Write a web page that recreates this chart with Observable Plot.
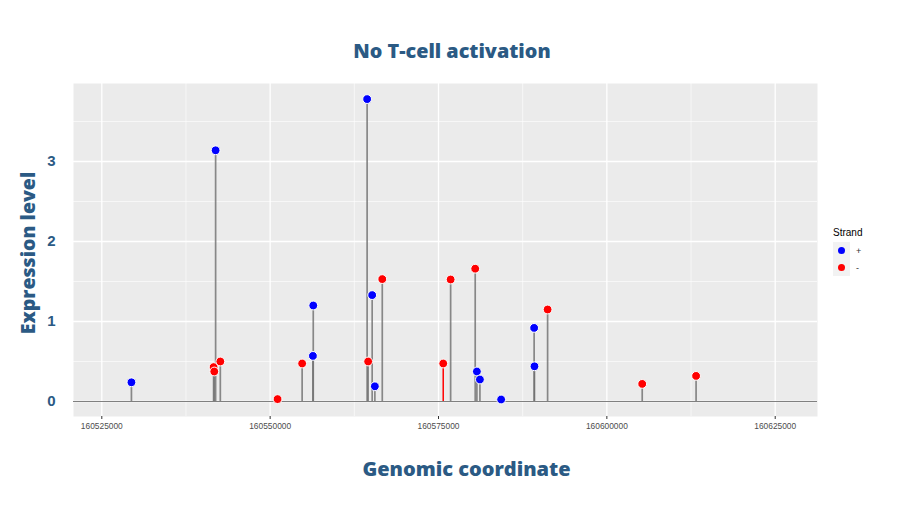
<!DOCTYPE html>
<html>
<head>
<meta charset="utf-8">
<script src="https://cdn.jsdelivr.net/npm/d3@7"></script>
<script src="https://cdn.jsdelivr.net/npm/@observablehq/plot@0.6"></script>
<style>
  html, body { margin: 0; padding: 0; background: #fff; }
  #wrap { position: relative; width: 904px; height: 508px; overflow: hidden; font-family: "Open Sans", sans-serif; }
  #title { position: absolute; left: 0; top: 0; width: 904px; height: 70px; box-sizing: border-box;
           padding-left: 0px; text-align: center; line-height: 102px; font-size: 19.8px; font-weight: 800; color: #2b5a84; }
  #title span { display: inline-block; line-height: 1; position: relative; top: 0; }
  #chart { position: absolute; left: 0; top: 70px; }
  #legend { position: absolute; left: 833px; top: 227px; font-family: "Liberation Sans", Arial, sans-serif; color: #000; }
  #legend .ttl { font-size: 10px; margin-bottom: 4px; }
  #legend .row { display: flex; align-items: center; height: 17px; }
  #legend .key { width: 17px; height: 17px; background: #f2f2f2; display: flex; align-items: center; justify-content: center; }
  #legend .dot { width: 7px; height: 7px; border-radius: 50%; }
  #legend .lab { font-size: 9px; margin-left: 6px; color: #333; }
</style>
</head>
<body>
<div id="wrap">
  <div id="title"></div>
  <div id="chart"></div>
  <div id="legend"></div>
</div>
<script>
// ---- data ----
const titleText = "No T-cell activation";
const xLabel = "Genomic coordinate";
const yLabel = "Expression level";
const legendTitle = "Strand";
const strandLevels = ["+", "-"];

const positions = [
  160529400, 160541600, 160541700, 160541900, 160542600,
  160551100, 160554750, 160556350, 160556400, 160564400,
  160564550, 160565150, 160565550, 160566650, 160575700,
  160576800, 160580450, 160580700, 160581150, 160584300,
  160589200, 160589250, 160591200, 160605250, 160613250
];
const expression = [
  0.24, 0.43, 0.375, 3.14, 0.50,
  0.03, 0.475, 0.57, 1.20, 3.78,
  0.50, 1.33, 0.19, 1.53, 0.475,
  1.525, 1.66, 0.375, 0.275, 0.025,
  0.92, 0.44, 1.15, 0.22, 0.32
];
const strands = [
  "+", "-", "-", "+", "-",
  "-", "-", "+", "+", "+",
  "-", "+", "+", "-", "-",
  "-", "-", "+", "+", "+",
  "+", "+", "-", "-", "-"
];
const highlightedStems = [160575700];

const xTicks = [160525000, 160550000, 160575000, 160600000, 160625000];
const xMinor = [160537500, 160562500, 160587500, 160612500];
const yTicks = [0, 1, 2, 3];
const yMinor = [0.5, 1.5, 2.5, 3.5];

// ---- build ----
const data = positions.map((p, i) => ({pos: p, value: expression[i], strand: strands[i]}));
const colors = ["#0000ff", "#ff0000"];
const ink = "#2b5a84";

document.getElementById("title").innerHTML = `<span>${titleText}</span>`;

const chart = Plot.plot({
  width: 904,
  height: 438,
  marginLeft: 73,
  marginRight: 87,
  marginTop: 13,
  marginBottom: 92,
  x: {domain: [160520797, 160631280]},
  y: {domain: [-0.1875, 3.975]},
  color: {domain: strandLevels, range: colors},
  style: {fontFamily: "'Liberation Sans', Arial, sans-serif", background: "transparent"},
  marks: [
    Plot.frame({fill: "#ebebeb", stroke: null}),
    Plot.gridX(xMinor, {stroke: "#ffffff", strokeOpacity: 1, strokeWidth: 0.6}),
    Plot.gridY(yMinor, {stroke: "#ffffff", strokeOpacity: 1, strokeWidth: 0.6}),
    Plot.gridX(xTicks, {stroke: "#ffffff", strokeOpacity: 1, strokeWidth: 1.3}),
    Plot.gridY(yTicks, {stroke: "#ffffff", strokeOpacity: 1, strokeWidth: 1.3}),
    Plot.ruleY([0], {stroke: "#808080", strokeWidth: 1.2}),
    Plot.ruleX(data, {filter: d => !highlightedStems.includes(d.pos), x: "pos", y1: 0, y2: "value", stroke: "#6e6e6e", strokeWidth: 1.7, strokeOpacity: 0.8}),
    Plot.ruleX(data, {filter: d => highlightedStems.includes(d.pos), x: "pos", y1: 0, y2: "value", stroke: "#ff0000", strokeWidth: 1.5}),
    Plot.dot(data, {x: "pos", y: "value", fill: "strand", stroke: "#ffffff", strokeWidth: 1, r: 4.4}),
    Plot.axisX(xTicks, {tickFormat: d3.format("d"), tickSize: 3, tickPadding: 4, fontSize: 8.4, color: "#4d4d4d", stroke: "#333", label: null}),
    Plot.axisY(yTicks, {tickFormat: d3.format("d"), tickSize: 0, tickPadding: 18, fontSize: 15, fontWeight: 700, fill: ink, label: null}),
    Plot.text([yLabel], {text: d => d, frameAnchor: "left", textAnchor: "middle", lineAnchor: "middle", rotate: -90, dx: -45, dy: 3, fontSize: 19.5, fontWeight: 800, fill: ink, fontFamily: "'Open Sans', sans-serif"}),
    Plot.text([xLabel], {text: d => d, frameAnchor: "bottom", lineAnchor: "middle", dx: 21, dy: 53, fontSize: 20, fontWeight: 800, fill: ink, fontFamily: "'Open Sans', sans-serif"})
  ]
});
document.getElementById("chart").appendChild(chart);

// legend
const lg = document.getElementById("legend");
let html = `<div class="ttl">${legendTitle}</div>`;
strandLevels.forEach((s, i) => {
  html += `<div class="row"><div class="key"><div class="dot" style="background:${colors[i]}"></div></div><div class="lab">${s}</div></div>`;
});
lg.innerHTML = html;
</script>
</body>
</html>
